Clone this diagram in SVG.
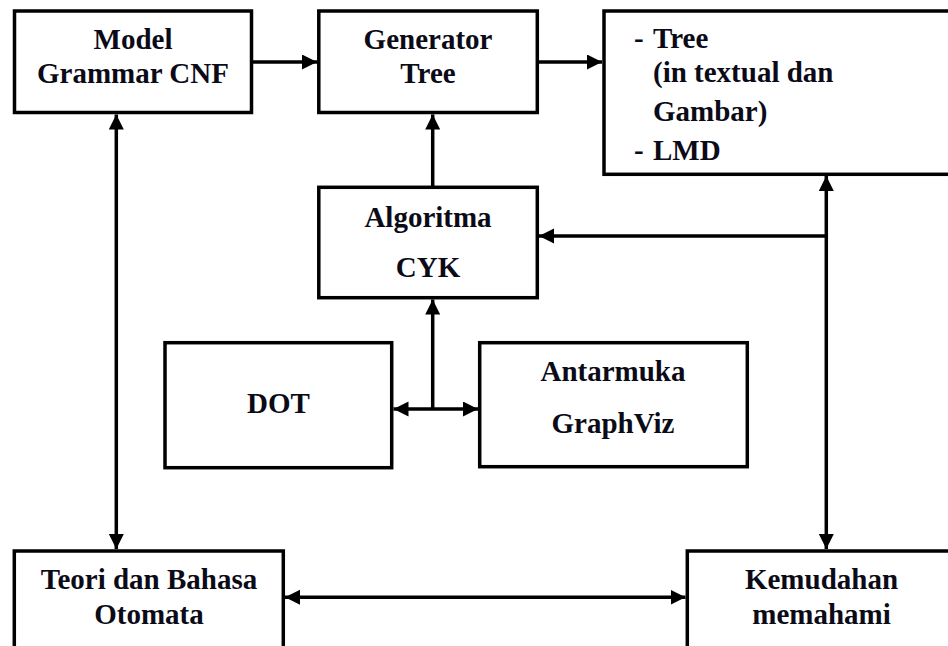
<svg xmlns="http://www.w3.org/2000/svg" width="948" height="646" viewBox="0 0 948 646">
<style>
.box{fill:#fff;stroke:#000;stroke-width:3.5}
text{font-weight:bold;font-size:29px;fill:#0b0b18}
.c{text-anchor:middle}
.ln{stroke:#000;stroke-width:3.5;fill:none}
</style>
<defs>
<marker id="ah" markerUnits="userSpaceOnUse" markerWidth="16" markerHeight="16" refX="15" refY="7.5" orient="auto-start-reverse" viewBox="0 0 16 16">
<path d="M0,0 L15,7.5 L0,15 z" fill="#000"/>
</marker>
</defs>
<rect width="948" height="646" fill="#fff"/>
<g id="model" font-family="Liberation Serif, Tinos, Times New Roman, serif">
<rect class="box" x="14.5" y="11" width="237" height="101.5"/>
<text class="c" x="133" y="49">Model</text>
<text class="c" x="133" y="83">Grammar CNF</text>
</g>
<g id="generator" font-family="Liberation Serif, Tinos, Times New Roman, serif">
<rect class="box" x="318.8" y="11" width="218.5" height="101.5"/>
<text class="c" x="428" y="49">Generator</text>
<text class="c" x="428" y="83">Tree</text>
</g>
<g id="tree" font-family="Liberation Serif, Tinos, Times New Roman, serif">
<rect class="box" x="604" y="11" width="360" height="163.3"/>
<text x="634" y="48">-</text>
<text x="653" y="48">Tree</text>
<text x="653" y="82">(in textual dan</text>
<text x="653" y="121">Gambar)</text>
<text x="634" y="160">-</text>
<text x="653" y="160">LMD</text>
</g>
<g id="cyk" font-family="Liberation Serif, Tinos, Times New Roman, serif">
<rect class="box" x="318.8" y="187.3" width="218.5" height="110.4"/>
<text class="c" x="428" y="227">Algoritma</text>
<text class="c" x="428" y="277">CYK</text>
</g>
<g id="dot" font-family="Liberation Serif, Tinos, Times New Roman, serif">
<rect class="box" x="165" y="342.7" width="226.7" height="125"/>
<text class="c" x="278.5" y="413">DOT</text>
</g>
<g id="antarmuka" font-family="Liberation Serif, Tinos, Times New Roman, serif">
<rect class="box" x="479.7" y="342.7" width="267.6" height="124"/>
<text class="c" x="613" y="381">Antarmuka</text>
<text class="c" x="613" y="433">GraphViz</text>
</g>
<g id="teori" font-family="Liberation Serif, Tinos, Times New Roman, serif">
<rect class="box" x="14.3" y="551" width="269" height="120"/>
<text class="c" x="149" y="589">Teori dan Bahasa</text>
<text class="c" x="149" y="624">Otomata</text>
</g>
<g id="kemudahan" font-family="Liberation Serif, Tinos, Times New Roman, serif">
<rect class="box" x="687.3" y="551" width="300" height="120"/>
<text class="c" x="821.5" y="589">Kemudahan</text>
<text class="c" x="821.5" y="624">memahami</text>
</g>
<g id="connectors">
<line class="ln" x1="253" y1="62" x2="317" y2="62" marker-end="url(#ah)"/>
<line class="ln" x1="539" y1="62" x2="602" y2="62" marker-end="url(#ah)"/>
<line class="ln" x1="432.7" y1="186" x2="432.7" y2="114.5" marker-end="url(#ah)"/>
<line class="ln" x1="826.3" y1="549" x2="826.3" y2="176" marker-start="url(#ah)" marker-end="url(#ah)"/>
<line class="ln" x1="826.3" y1="236" x2="539" y2="236" marker-end="url(#ah)"/>
<line class="ln" x1="432.7" y1="409" x2="432.7" y2="299.5" marker-end="url(#ah)"/>
<line class="ln" x1="393.5" y1="409" x2="478" y2="409" marker-start="url(#ah)" marker-end="url(#ah)"/>
<line class="ln" x1="116.3" y1="114.5" x2="116.3" y2="549" marker-start="url(#ah)" marker-end="url(#ah)"/>
<line class="ln" x1="285" y1="597.3" x2="685.5" y2="597.3" marker-start="url(#ah)" marker-end="url(#ah)"/>
</g>
</svg>
